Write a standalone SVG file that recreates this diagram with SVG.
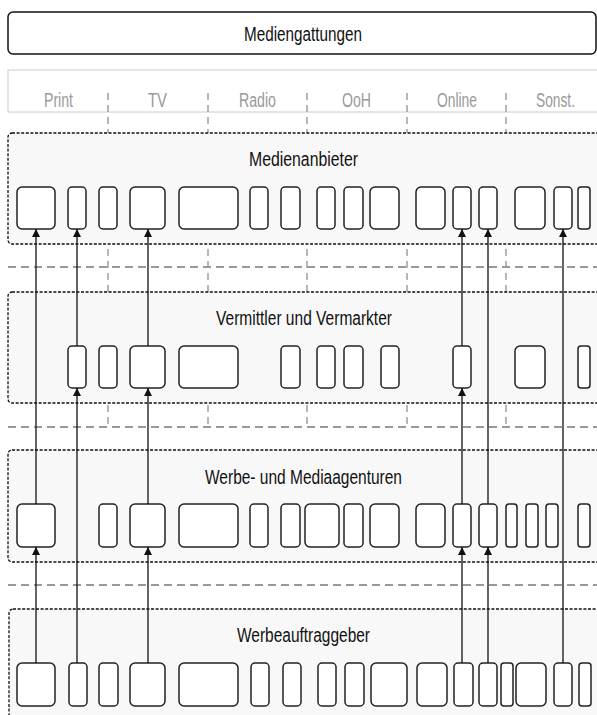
<svg xmlns="http://www.w3.org/2000/svg" width="597" height="715" viewBox="0 0 597 715">
<style>
.title{font-family:"Liberation Sans",Arial,sans-serif;font-size:19.5px;fill:#111;text-anchor:middle}
.lbl{font-family:"Liberation Sans",Arial,sans-serif;font-size:19.5px;fill:#999;text-anchor:middle}
.row{fill:#f8f8f8;stroke:#111;stroke-width:1.3;stroke-dasharray:3 1.6}
.box{fill:#fff;stroke:#222;stroke-width:1.5}
.sep{stroke:#888;stroke-width:1.2;stroke-dasharray:7 5;fill:none}
.hsep{stroke:#999;stroke-width:1.8;stroke-dasharray:8 5;fill:none}
.conn{stroke:#111;stroke-width:1.3;fill:none}
</style>
<defs>
<marker id="ah" markerUnits="userSpaceOnUse" markerWidth="9" markerHeight="8" refX="8" refY="4" orient="auto">
<path d="M0,0 L8,4 L0,8 z" fill="#111"/>
</marker>
</defs>
<rect width="597" height="715" fill="#fff"/>

<g id="mediengattungen">
<rect x="8" y="12" width="588" height="42" rx="5" fill="#fff" stroke="#111" stroke-width="1.5"/>
<text class="title" x="303" y="41" textLength="118" lengthAdjust="spacingAndGlyphs">Mediengattungen</text>
</g>

<g id="header">
<rect x="8" y="70" width="600" height="42" fill="none" stroke="#ccc" stroke-width="1"/>
<text class="lbl" x="58.5" y="107" textLength="29" lengthAdjust="spacingAndGlyphs">Print</text>
<text class="lbl" x="157.5" y="107" textLength="19" lengthAdjust="spacingAndGlyphs">TV</text>
<text class="lbl" x="257.5" y="107" textLength="37" lengthAdjust="spacingAndGlyphs">Radio</text>
<text class="lbl" x="356.5" y="107" textLength="29" lengthAdjust="spacingAndGlyphs">OoH</text>
<text class="lbl" x="457" y="107" textLength="40" lengthAdjust="spacingAndGlyphs">Online</text>
<text class="lbl" x="555.5" y="107" textLength="39" lengthAdjust="spacingAndGlyphs">Sonst.</text>
</g>

<g id="separators">
<path class="sep" d="M108,93V428 M208,93V428 M307,93V428 M407,93V428 M506,93V428"/>
<path class="hsep" d="M8,267H597 M8,427H597 M8,585H597"/>
</g>

<g id="medienanbieter">
<rect class="row" x="8" y="133" width="600" height="111" rx="4"/>
<text class="title" x="303.5" y="166" textLength="109" lengthAdjust="spacingAndGlyphs">Medienanbieter</text>
<rect class="box" x="17" y="187" width="38" height="42" rx="5"/>
<rect class="box" x="68" y="187" width="18" height="42" rx="4"/>
<rect class="box" x="99" y="187" width="18" height="42" rx="4"/>
<rect class="box" x="130" y="187" width="35" height="42" rx="5"/>
<rect class="box" x="179" y="187" width="59" height="42" rx="5"/>
<rect class="box" x="250" y="187" width="18" height="42" rx="4"/>
<rect class="box" x="281" y="187" width="19" height="42" rx="4"/>
<rect class="box" x="317" y="187" width="18" height="42" rx="4"/>
<rect class="box" x="344" y="187" width="19" height="42" rx="4"/>
<rect class="box" x="370" y="187" width="29" height="42" rx="5"/>
<rect class="box" x="416" y="187" width="29" height="42" rx="5"/>
<rect class="box" x="453" y="187" width="18" height="42" rx="4"/>
<rect class="box" x="479" y="187" width="18" height="42" rx="4"/>
<rect class="box" x="515" y="187" width="30" height="42" rx="5"/>
<rect class="box" x="554" y="187" width="18" height="42" rx="4"/>
<rect class="box" x="578" y="187" width="12" height="42" rx="3"/>
</g>

<g id="vermittler">
<rect class="row" x="8" y="292" width="600" height="111" rx="4"/>
<text class="title" x="304" y="325" textLength="176" lengthAdjust="spacingAndGlyphs">Vermittler und Vermarkter</text>
<rect class="box" x="68" y="346" width="18" height="42" rx="4"/>
<rect class="box" x="99" y="346" width="18" height="42" rx="4"/>
<rect class="box" x="130" y="346" width="35" height="42" rx="5"/>
<rect class="box" x="179" y="346" width="59" height="42" rx="5"/>
<rect class="box" x="281" y="346" width="19" height="42" rx="4"/>
<rect class="box" x="317" y="346" width="18" height="42" rx="4"/>
<rect class="box" x="344" y="346" width="19" height="42" rx="4"/>
<rect class="box" x="381" y="346" width="18" height="42" rx="4"/>
<rect class="box" x="453" y="346" width="18" height="42" rx="4"/>
<rect class="box" x="515" y="346" width="30" height="42" rx="5"/>
<rect class="box" x="578" y="346" width="12" height="42" rx="3"/>
</g>

<g id="agenturen">
<rect class="row" x="8" y="450" width="600" height="112" rx="4"/>
<text class="title" x="303.5" y="484" textLength="197" lengthAdjust="spacingAndGlyphs">Werbe- und Mediaagenturen</text>
<rect class="box" x="17" y="504" width="38" height="43" rx="5"/>
<rect class="box" x="99" y="504" width="18" height="43" rx="4"/>
<rect class="box" x="130" y="504" width="35" height="43" rx="5"/>
<rect class="box" x="179" y="504" width="59" height="43" rx="5"/>
<rect class="box" x="250" y="504" width="18" height="43" rx="4"/>
<rect class="box" x="281" y="504" width="19" height="43" rx="4"/>
<rect class="box" x="305" y="504" width="34" height="43" rx="5"/>
<rect class="box" x="344" y="504" width="19" height="43" rx="4"/>
<rect class="box" x="370" y="504" width="29" height="43" rx="5"/>
<rect class="box" x="416" y="504" width="29" height="43" rx="5"/>
<rect class="box" x="453" y="504" width="18" height="43" rx="4"/>
<rect class="box" x="479" y="504" width="18" height="43" rx="4"/>
<rect class="box" x="506" y="504" width="11" height="43" rx="3"/>
<rect class="box" x="526" y="504" width="12" height="43" rx="3"/>
<rect class="box" x="546" y="504" width="12" height="43" rx="3"/>
<rect class="box" x="578" y="504" width="12" height="43" rx="3"/>
</g>

<g id="werbeauftraggeber">
<rect class="row" x="9" y="609" width="600" height="130" rx="4"/>
<text class="title" x="303.5" y="642" textLength="133" lengthAdjust="spacingAndGlyphs">Werbeauftraggeber</text>
<rect class="box" x="17" y="663" width="38" height="43" rx="5"/>
<rect class="box" x="69" y="663" width="18" height="43" rx="4"/>
<rect class="box" x="99" y="663" width="19" height="43" rx="4"/>
<rect class="box" x="130" y="663" width="35" height="43" rx="5"/>
<rect class="box" x="179" y="663" width="59" height="43" rx="5"/>
<rect class="box" x="251" y="663" width="18" height="43" rx="4"/>
<rect class="box" x="283" y="663" width="18" height="43" rx="4"/>
<rect class="box" x="318" y="663" width="18" height="43" rx="4"/>
<rect class="box" x="345" y="663" width="19" height="43" rx="4"/>
<rect class="box" x="371" y="663" width="36" height="43" rx="5"/>
<rect class="box" x="417" y="663" width="30" height="43" rx="5"/>
<rect class="box" x="454" y="663" width="19" height="43" rx="4"/>
<rect class="box" x="479" y="663" width="18" height="43" rx="4"/>
<rect class="box" x="501" y="663" width="12" height="43" rx="3"/>
<rect class="box" x="516" y="663" width="30" height="43" rx="5"/>
<rect class="box" x="554" y="663" width="18" height="43" rx="4"/>
<rect class="box" x="579" y="663" width="12" height="43" rx="3"/>
</g>

<g id="connectors">
<path class="conn" d="M36,663V547" marker-end="url(#ah)"/>
<path class="conn" d="M36,504V229" marker-end="url(#ah)"/>
<path class="conn" d="M77,663V388" marker-end="url(#ah)"/>
<path class="conn" d="M77,346V229" marker-end="url(#ah)"/>
<path class="conn" d="M148,663V547" marker-end="url(#ah)"/>
<path class="conn" d="M148,504V388" marker-end="url(#ah)"/>
<path class="conn" d="M148,346V229" marker-end="url(#ah)"/>
<path class="conn" d="M462,663V547" marker-end="url(#ah)"/>
<path class="conn" d="M462,504V388" marker-end="url(#ah)"/>
<path class="conn" d="M462,346V229" marker-end="url(#ah)"/>
<path class="conn" d="M488,663V547" marker-end="url(#ah)"/>
<path class="conn" d="M488,504V229" marker-end="url(#ah)"/>
<path class="conn" d="M563,663V229" marker-end="url(#ah)"/>
</g>
</svg>
